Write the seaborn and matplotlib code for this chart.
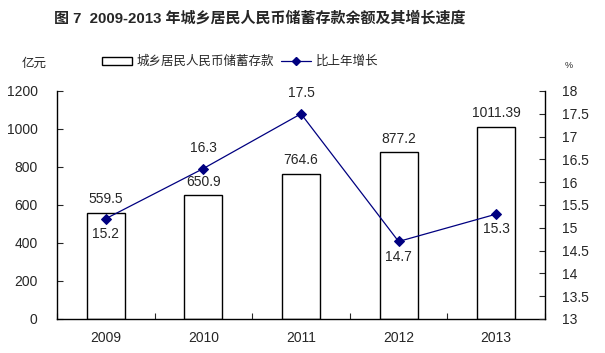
import numpy as np
import pandas as pd
import seaborn as sns
import matplotlib.pyplot as plt
from matplotlib.patches import Patch
from matplotlib.lines import Line2D

years = ["2009", "2010", "2011", "2012", "2013"]
deposits = [559.5, 650.9, 764.6, 877.2, 1011.39]
deposit_labels = ["559.5", "650.9", "764.6", "877.2", "1011.39"]
growth = [15.2, 16.3, 17.5, 14.7, 15.3]
growth_below = [True, False, False, True, True]

sns.set_style("ticks")
plt.rcParams['font.family'] = ['Liberation Sans', 'Noto Sans CJK SC']
plt.rcParams['axes.unicode_minus'] = False

df = pd.DataFrame({"year": years, "deposit": deposits, "growth": growth,
                   "pos": np.arange(len(years))})

fig = plt.figure(figsize=(6.05, 3.53), dpi=100)
ax = fig.add_axes([57 / 605, 1 - 319 / 353, 488 / 605, 228 / 353])

sns.barplot(data=df, x="year", y="deposit", color="white", edgecolor="black",
            linewidth=1, width=0.39, saturation=1, ax=ax)
ax.set_ylim(0, 1200)
ax.set_yticks(range(0, 1201, 200))
ax.set_xlim(-0.5, 4.5)
ax.set_xlabel("")
ax.set_ylabel("")
ax.set_xticks(np.arange(-0.5, 5, 1), minor=True)
ax.tick_params(axis="x", which="major", length=0, pad=9, labelsize=10)
ax.tick_params(axis="x", which="minor", direction="in", length=4, width=0.8)
ax.tick_params(axis="y", direction="in", length=4, width=0.8, labelsize=10, pad=14)
for s in ["left", "bottom"]:
    ax.spines[s].set_linewidth(1)
    ax.spines[s].set_color("black")
ax.spines["top"].set_visible(False)
ax.spines["right"].set_visible(False)

for i, (v, lab) in enumerate(zip(deposits, deposit_labels)):
    ax.text(i, v + 35, lab, ha="center", va="bottom", fontsize=10)

ax2 = ax.twinx()
sns.lineplot(data=df, x="pos", y="growth", color="#000080", linewidth=0.9,
             marker="D", markersize=5, markeredgecolor="#000080", ax=ax2)
ax2.set_ylim(13, 18)
ax2.set_yticks(np.arange(13, 18.01, 0.5))
ax2.set_yticklabels([f"{t:g}" for t in np.arange(13, 18.01, 0.5)])
ax2.set_xlim(-0.5, 4.5)
ax2.set_ylabel("")
ax2.set_xlabel("")
ax2.tick_params(axis="y", direction="in", length=4, width=0.8, labelsize=10, pad=12)
ax2.spines["top"].set_visible(False)
ax2.spines["left"].set_visible(False)
ax2.spines["bottom"].set_visible(False)
ax2.spines["right"].set_linewidth(1)
ax2.spines["right"].set_color("black")

for i, (g, below) in enumerate(zip(growth, growth_below)):
    if below:
        ax2.text(i, g - 0.18, f"{g:g}", ha="center", va="top", fontsize=10)
    else:
        ax2.text(i, g + 0.3, f"{g:g}", ha="center", va="bottom", fontsize=10)

fig.text(260 / 605, 1 - 18 / 353, "图 7  2009-2013 年城乡居民人民币储蓄存款余额及其增长速度",
         ha="center", va="center", fontsize=10.8, fontweight="bold")
fig.text(34 / 605, 1 - 64 / 353, "亿元", ha="center", va="center", fontsize=9)
fig.text(569 / 605, 1 - 66 / 353, "%", ha="center", va="center", fontsize=6.5)

handles = [Patch(facecolor="white", edgecolor="black", linewidth=1),
           Line2D([], [], color="#000080", linewidth=0.9, marker="D", markersize=4)]
fig.legend(handles, ["城乡居民人民币储蓄存款", "比上年增长"], loc="center",
           bbox_to_anchor=(240 / 605, 1 - 62 / 353), ncol=2, frameon=False, fontsize=9,
           handlelength=2.4, handleheight=0.6, handletextpad=0.4, columnspacing=0.5)

fig.savefig("out.png", dpi=100)
